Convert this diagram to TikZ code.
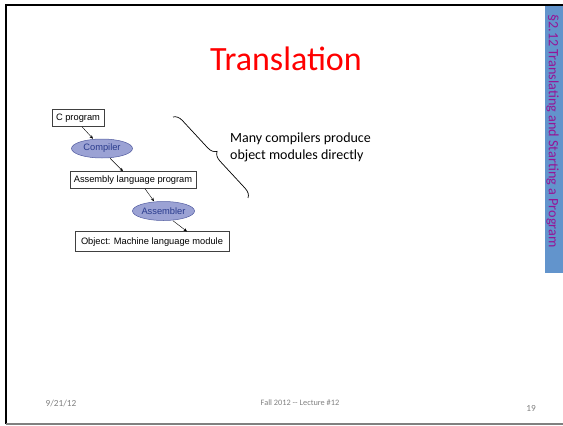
\documentclass[tikz,border=0pt]{standalone}
\usepackage{fontspec}
\setmainfont{Carlito}
\newfontfamily\arialfont{Liberation Sans}
\usetikzlibrary{arrows.meta,positioning,shapes.geometric,decorations.pathreplacing}
\definecolor{titlered}{RGB}{255,0,0}
\definecolor{barblue}{RGB}{98,148,204}
\definecolor{barpurple}{RGB}{150,20,150}
\definecolor{ellfill}{RGB}{155,162,212}
\definecolor{elldraw}{RGB}{82,92,160}
\definecolor{elltext}{RGB}{40,58,140}
\definecolor{footgray}{RGB}{128,128,128}

\begin{document}
\begin{tikzpicture}[
    x=1pt, y=-1pt,
    box/.style={rectangle, draw=black!75, line width=0.5pt, fill=white, inner xsep=4pt, minimum height=17pt, font=\arialfont\fontsize{9.3}{11}\selectfont},
    tool/.style={ellipse, draw=elldraw, fill=ellfill, line width=0.5pt, inner sep=0pt, minimum width=61pt, minimum height=19pt, text=elltext, font=\arialfont\fontsize{9.3}{11}\selectfont},
    arrow/.style={-{Stealth[length=3.5pt,width=3pt]}, line width=0.4pt, black},
    foot/.style={font=\fontsize{9.3}{11}\selectfont, text=footgray, inner sep=0pt, anchor=base}
]
    \useasboundingbox (0,0) rectangle (563,426);
    % slide frame and side bar
    \fill[barblue] (545,5) rectangle (563,273);
    \draw[black, line width=1.6pt] (6,424) -- (6,4.8) -- (563,4.8);
    \draw[footgray, line width=1.4pt] (6,423.8) -- (563,423.8);
    \node[rotate=-90, text=barpurple, font=\fontsize{14.2}{17}\selectfont, inner sep=0pt] (side) at (552.5,131) {§2.12 Translating and Starting a Program};

    \node[anchor=base, text=titlered, font=\fontsize{34}{40}\selectfont, inner sep=0pt] (title) at (286,70) {Translation};

    % translation chain
    \node[box] (cprog) at (78,118) {C program};
    \node[tool] (comp) at (102,148.5) {Compiler};
    \node[box] (asmprog) at (133,180) {Assembly language program};
    \node[tool] (asmb) at (163.5,211) {Assembler};
    \node[box, minimum width=154pt, minimum height=20pt] (obj) at (152,241.7) {Object: Machine language module};

    \draw[arrow] ([xshift=4pt]cprog.south) -- ([xshift=-9pt]comp.north);
    \draw[arrow] ([xshift=8pt]comp.south) -- ([xshift=-10pt]asmprog.north);
    \draw[arrow] ([xshift=12pt]asmprog.south) -- ([xshift=-9.5pt]asmb.north);
    \draw[arrow] ([xshift=9.5pt]asmb.south) -- ([xshift=35pt]obj.north);

    % brace and note
    \coordinate (bracetop) at (173,117);
    \coordinate (bracebot) at (248,198);
    \draw[decorate, decoration={brace, amplitude=9pt, aspect=0.5}, line width=0.7pt] (bracetop) -- (bracebot);
    \node[anchor=north west, align=left, inner sep=0pt, font=\fontsize{14}{17}\selectfont] (note) at (230,133) {Many compilers produce\\object modules directly};

    % footer
    \node[foot] (date) at (61,406.5) {9/21/12};
    \node[foot, font=\fontsize{8.3}{10}\selectfont] (lecture) at (300,405.5) {Fall 2012 -\kern0pt- Lecture \#12};
    \node[foot] (page) at (531,411) {19};
\end{tikzpicture}
\end{document}
